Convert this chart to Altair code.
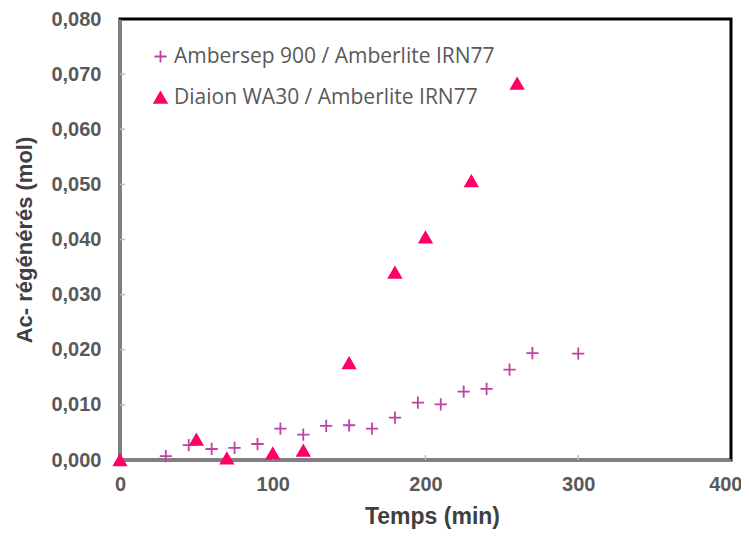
import altair as alt
import pandas as pd

series_a = "Ambersep 900 / Amberlite IRN77"
series_b = "Diaion WA30 / Amberlite IRN77"

a_time = [30, 45, 60, 75, 90, 105, 120, 135, 150, 165, 180, 195, 210, 225, 240, 255, 270, 300]
a_val = [0.0007, 0.0027, 0.0020, 0.0022, 0.0029, 0.0057, 0.0046, 0.0062, 0.0063, 0.0057,
         0.0077, 0.0104, 0.0101, 0.0124, 0.0129, 0.0164, 0.0194, 0.0193]

b_time = [0, 50, 70, 100, 120, 150, 180, 200, 230, 260]
b_val = [0.0000, 0.0037, 0.0003, 0.0012, 0.0017, 0.0176, 0.0340, 0.0404, 0.0506, 0.0683]

y_ticks = [0.01, 0.02, 0.03, 0.04, 0.05, 0.06, 0.07]
x_ticks = [100, 200, 300]

rows = [{"t": t, "v": v, "s": series_a} for t, v in zip(a_time, a_val)] + \
       [{"t": t, "v": v, "s": series_b} for t, v in zip(b_time, b_val)]
df = pd.DataFrame(rows)

plus_path = "M-1,0L1,0M0,-1L0,1"

H = 441
xscale = alt.Scale(domain=[0, 400], nice=False, zero=True)
yscale = alt.Scale(domain=[0, 0.08], nice=False)

points = alt.Chart(df).mark_point(filled=False, strokeWidth=1.8, opacity=1).encode(
    x=alt.X("t:Q", scale=xscale,
            axis=alt.Axis(title="Temps (min)", values=[0, 100, 200, 300, 400],
                          ticks=False, grid=False, labelPadding=14, titlePadding=11,
                          labelFlush=False, titleFontSize=23, titleX=312,
                          labelAlign={"condition": {"test": "datum.value == 400", "value": "right"},
                                      "value": "center"},
                          labelOffset={"condition": {"test": "datum.value == 400", "value": 11},
                                       "value": 0})),
    y=alt.Y("v:Q", scale=yscale,
            axis=alt.Axis(title="Ac- régénérés (mol)",
                          values=[0, 0.01, 0.02, 0.03, 0.04, 0.05, 0.06, 0.07, 0.08],
                          labelExpr="replace(format(datum.value, '.3f'), '.', ',')",
                          labelFlush=False,
                          ticks=False, grid=False, labelPadding=19, titlePadding=14)),
    color=alt.Color("s:N", scale=alt.Scale(domain=[series_a, series_b], range=["#C040A8", "#FF0066"]),
                    legend=alt.Legend(title=None, orient="none", legendX=30, legendY=27,
                                      labelFont="Open Sans", labelFontSize=21, labelColor="#595959",
                                      labelLimit=500,
                                      rowPadding=19, symbolSize=150, symbolStrokeWidth=1.8,
                                      labelOffset=3, padding=0)),
    fill=alt.Fill("s:N", scale=alt.Scale(domain=[series_a, series_b], range=["transparent", "#FF0066"]),
                  legend=None),
    shape=alt.Shape("s:N", scale=alt.Scale(domain=[series_a, series_b], range=[plus_path, "triangle-up"]),
                    legend=None),
    size=alt.value(150),
    order=alt.Order("s:N"),
)

ydf = pd.DataFrame({"v": y_ticks})
ytick_rules = alt.Chart(ydf).mark_rule(color="#bbbbbb", strokeWidth=1.5).encode(
    y=alt.Y("v:Q", scale=yscale), x=alt.value(0), x2=alt.value(5))

xdf = pd.DataFrame({"t": x_ticks})
xtick_rules = alt.Chart(xdf).mark_rule(color="#bbbbbb", strokeWidth=1.5).encode(
    x=alt.X("t:Q", scale=xscale), y=alt.value(H), y2=alt.value(H - 5))

chart = alt.layer(ytick_rules, xtick_rules, points).properties(
    width=611, height=H,
    autosize=alt.AutoSizeParams(type="none"),
    padding={"left": 112, "top": 11, "right": 10, "bottom": 70},
).configure_view(
    stroke="black", strokeWidth=3
).configure_axis(
    domainColor="#808080", domainWidth=3,
    labelFont="Liberation Sans", labelFontSize=20, labelFontWeight="bold", labelColor="#595959",
    titleFont="Liberation Sans", titleFontSize=22, titleFontWeight="bold", titleColor="#404040",
)

chart.save("out.html", embed_options={"renderer": "svg", "actions": False})
